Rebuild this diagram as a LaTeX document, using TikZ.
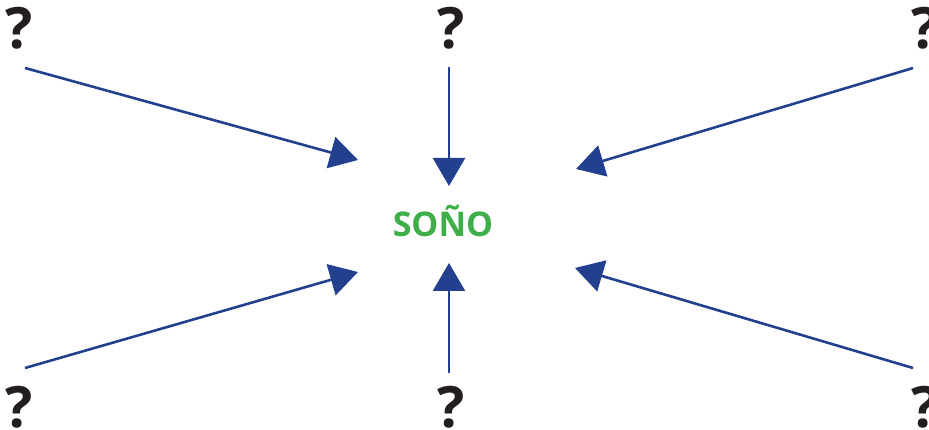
\documentclass[tikz,border=0pt]{standalone}
\usepackage{fontspec}
\setmainfont{Open Sans}
\usetikzlibrary{arrows.meta}
\definecolor{arrowblue}{RGB}{35,64,143}
\definecolor{sonogreen}{RGB}{62,174,73}
\definecolor{qmark}{RGB}{35,31,32}
\begin{document}
\begin{tikzpicture}[x=1pt,y=-1pt,
  qm/.style={inner sep=0pt,anchor=base,text=qmark,font=\fontsize{57}{57}\selectfont\bfseries},
  conn/.style={draw=arrowblue,line width=2.6pt,-{Triangle[length=28pt,width=32pt]}}]
\useasboundingbox (0,0) rectangle (929,430);
\node[qm] (q1) at (19,49) {?};
\node[qm] (q2) at (451,49) {?};
\node[qm] (q3) at (925,49) {?};
\node[qm] (q4) at (19,427) {?};
\node[qm] (q5) at (451,427) {?};
\node[qm] (q6) at (925,427) {?};
\node[inner sep=0pt,anchor=base,text=sonogreen,font=\fontsize{34}{34}\selectfont\bfseries] (sono) at (443,237) {SOÑO};
\coordinate (s1) at (25,68);  \coordinate (t1) at (358,160);
\coordinate (s2) at (449,67); \coordinate (t2) at (449,186);
\coordinate (s3) at (913,68); \coordinate (t3) at (576,169);
\coordinate (s4) at (25,368); \coordinate (t4) at (358,272);
\coordinate (s5) at (449,373); \coordinate (t5) at (449,263);
\coordinate (s6) at (913,368); \coordinate (t6) at (575,268);
\foreach \i in {1,...,6} {\draw[conn] (s\i) -- (t\i);}
\end{tikzpicture}
\end{document}
